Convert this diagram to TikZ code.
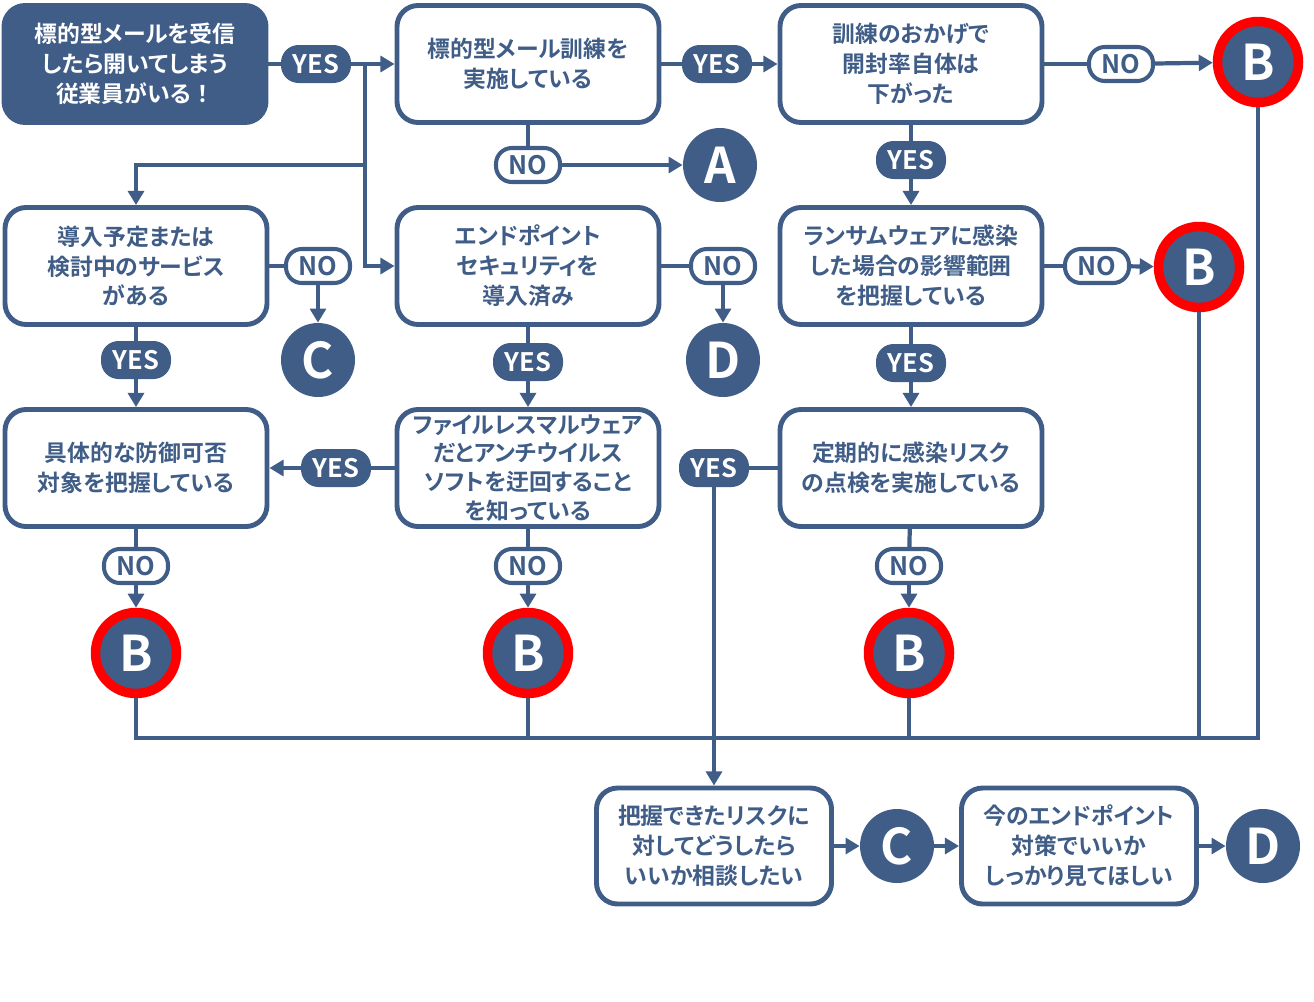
\documentclass[tikz,border=0pt]{standalone}
\usepackage{fontspec}
\setmainfont{Noto Sans CJK JP Bold}[RawFeature=+palt]
\usepackage{xcolor}
\usetikzlibrary{arrows.meta}
\definecolor{flowblue}{RGB}{64,93,135}

\begin{document}
\begin{tikzpicture}[x=0.2mm,y=-0.2mm,
  qbox/.style={draw=flowblue,line width=2.8pt,rounded corners=12pt,fill=white,text=flowblue,align=center,inner sep=1pt,
    minimum width=5.24cm,minimum height=2.34cm,font=\fontsize{13}{17}\selectfont},
  endbox/.style={qbox,minimum width=4.7cm,minimum height=2.32cm},
  yesbadge/.style={fill=flowblue,text=white,rounded corners=10pt,minimum width=1.4cm,minimum height=0.76cm,inner sep=0pt,font=\fontsize{14.5}{14.5}\selectfont},
  nobadge/.style={draw=flowblue,line width=2.3pt,fill=white,text=flowblue,rounded corners=9pt,minimum width=1.28cm,minimum height=0.68cm,inner sep=0pt,font=\fontsize{14.5}{14.5}\selectfont},
  goal/.style={circle,fill=flowblue,text=white,minimum size=1.48cm,inner sep=0pt,font=\fontsize{28}{28}\selectfont},
  alarm/.style={goal,draw=red,line width=5.4pt,minimum size=1.62cm},
  link/.style={draw=flowblue,line width=2.4pt},
  flow/.style={link,-{Triangle[length=8pt,width=9pt]}}]
  \useasboundingbox (0,0) rectangle (1314,1001);

  % questions
  \node[qbox,fill=flowblue,text=white] (start) at (135,64) {標的型メールを受信\\したら開いてしまう\\従業員がいる{\addfontfeature{RawFeature=-palt}！}};
  \node[qbox] (q1) at (528,64) {標的型メール訓練を\\実施している};
  \node[qbox] (q2) at (911,64) {訓練のおかげで\\開封率自体は\\下がった};
  \node[qbox] (q4) at (136,266) {導入予定または\\検討中のサービス\\がある};
  \node[qbox] (q5) at (528,266) {エンドポイント\\セキュリティを\\導入済み};
  \node[qbox] (q3) at (911,266) {ランサムウェアに感染\\した場合の影響範囲\\を把握している};
  \node[qbox] (q6) at (136,468) {具体的な防御可否\\対象を把握している};
  \node[qbox,font=\fontsize{13}{16.4}\selectfont] (q7) at (528,468) {ファイルレスマルウェア\\だとアンチウイルス\\ソフトを迂回すること\\を知っている};
  \node[qbox] (q8) at (911,468) {定期的に感染リスク\\の点検を実施している};
  \node[endbox] (q9) at (714,846) {把握できたリスクに\\対してどうしたら\\いいか相談したい};
  \node[endbox] (q10) at (1079,846) {今のエンドポイント\\対策でいいか\\しっかり見てほしい};

  % answers
  \node[yesbadge] (yesA) at (316,64) {YES};
  \node[yesbadge] (yesB) at (717,64) {YES};
  \node[nobadge] (noA) at (1121,64) {NO};
  \node[nobadge] (noB) at (528,165) {NO};
  \node[yesbadge] (yesC) at (911,160) {YES};
  \node[nobadge] (noC) at (318,266) {NO};
  \node[nobadge] (noD) at (723,266) {NO};
  \node[nobadge] (noE) at (1097,266) {NO};
  \node[yesbadge] (yesD) at (136,360) {YES};
  \node[yesbadge] (yesE) at (528,362) {YES};
  \node[yesbadge] (yesG) at (911,363) {YES};
  \node[yesbadge] (yesF) at (336,468) {YES};
  \node[yesbadge] (yesH) at (714,468) {YES};
  \node[nobadge] (noF) at (136,566) {NO};
  \node[nobadge] (noG) at (528,566) {NO};
  \node[nobadge] (noH) at (909,566) {NO};

  % results
  \node[alarm] (b1) at (1258,62) {B};
  \node[goal] (a) at (720,165) {A};
  \node[goal] (c1) at (318,360) {C};
  \node[goal] (d1) at (723,360) {D};
  \node[alarm] (b2) at (1199,267) {B};
  \node[alarm] (b3) at (136,653) {B};
  \node[alarm] (b4) at (528,653) {B};
  \node[alarm] (b5) at (909,653) {B};
  \node[goal] (c2) at (897,846) {C};
  \node[goal] (d2) at (1263,846) {D};

  \coordinate (fork) at (365,64);
  \coordinate (split) at (365,165);
  \coordinate (busL) at (136,738);
  \coordinate (busR) at (1258,738);

  % connectors
  \draw[link] (start) -- (yesA);
  \draw[flow] (yesA) -- (q1);
  \draw[flow] (fork) |- (q5.west);
  \draw[flow] (split) -| (q4.north);
  \draw[link] (q1) -- (yesB);
  \draw[flow] (yesB) -- (q2);
  \draw[link] (q1) -- (noB);
  \draw[flow] (noB) -- (a);
  \draw[link] (q2) -- (noA);
  \draw[flow] (noA) -- (b1);
  \draw[link] (q2) -- (yesC);
  \draw[flow] (yesC) -- (q3);
  \draw[link] (q4) -- (noC);
  \draw[flow] (noC) -- (c1);
  \draw[link] (q4) -- (yesD);
  \draw[flow] (yesD) -- (q6);
  \draw[link] (q5) -- (noD);
  \draw[flow] (noD) -- (d1);
  \draw[link] (q5) -- (yesE);
  \draw[flow] (yesE) -- (q7);
  \draw[link] (q3) -- (noE);
  \draw[flow] (noE) -- (b2);
  \draw[link] (q3) -- (yesG);
  \draw[flow] (yesG) -- (q8);
  \draw[link] (q7) -- (yesF);
  \draw[flow] (yesF) -- (q6);
  \draw[link] (q8) -- (yesH);
  \draw[flow] (yesH) -- (q9);
  \foreach \q/\n/\b in {q6/noF/b3,q7/noG/b4,q8/noH/b5}{
    \draw[link] (\q) -- (\n);
    \draw[flow] (\n) -- (\b);
  }
  \draw[link] (b3.south) -- (busL) -- (busR) -- (b1.south);
  \foreach \b in {b4,b5,b2}
    \draw[link] (\b.south) -- (\b.south |- busL);
  \draw[flow] (q9) -- (c2);
  \draw[flow] (c2) -- (q10);
  \draw[flow] (q10) -- (d2);
\end{tikzpicture}
\end{document}
